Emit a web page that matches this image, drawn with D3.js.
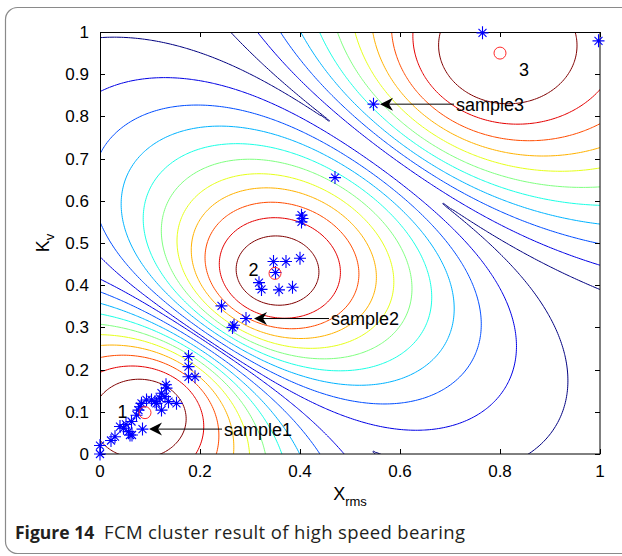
<!DOCTYPE html>
<html><head><meta charset="utf-8">
<script src="https://cdn.jsdelivr.net/npm/d3@7"></script>
<style>body{margin:0;background:#fff}svg{display:block}</style>
</head><body>
<script>
// ---------- data ----------
const xTicks = [0, 0.2, 0.4, 0.6, 0.8, 1];
const yTicks = [0, 0.1, 0.2, 0.3, 0.4, 0.5, 0.6, 0.7, 0.8, 0.9, 1];
const xTickLabels = ["0", "0.2", "0.4", "0.6", "0.8", "1"];
const yTickLabels = ["0", "0.1", "0.2", "0.3", "0.4", "0.5", "0.6", "0.7", "0.8", "0.9", "1"];
// cluster centres (red circles)
const centerX = [0.090, 0.350, 0.800];
const centerY = [0.098, 0.428, 0.950];
const centerLabels = ["1", "2", "3"];
const labelX = [0.045, 0.307, 0.848];
const labelY = [0.100, 0.436, 0.910];
const fuzzifier = 2;
// membership contour levels
const levels = [0.45, 0.50, 0.55, 0.60, 0.65, 0.70, 0.75, 0.80, 0.85, 0.90, 0.95];
// samples (blue stars)
const pointsX = [0.000, 0.000, 0.022, 0.030, 0.040, 0.047, 0.052, 0.057, 0.060, 0.064, 0.063, 0.073, 0.077, 0.080, 0.083, 0.085, 0.093, 0.103, 0.110, 0.113, 0.120, 0.123, 0.123, 0.130, 0.133, 0.132, 0.137, 0.153, 0.177, 0.177, 0.177, 0.190,
  0.347, 0.372, 0.400, 0.351, 0.318, 0.323, 0.358, 0.385, 0.403, 0.405, 0.403, 0.470, 0.243, 0.265, 0.268, 0.292,
  0.765, 0.997, 0.547];
const pointsY = [0.000, 0.020, 0.032, 0.041, 0.065, 0.061, 0.070, 0.053, 0.045, 0.045, 0.077, 0.092, 0.104, 0.112, 0.120, 0.059, 0.128, 0.128, 0.124, 0.120, 0.132, 0.144, 0.104, 0.136, 0.156, 0.164, 0.124, 0.120, 0.231, 0.207, 0.183, 0.183,
  0.456, 0.456, 0.464, 0.430, 0.406, 0.390, 0.389, 0.395, 0.566, 0.558, 0.550, 0.655, 0.351, 0.300, 0.305, 0.321,
  0.998, 0.979, 0.829];
// annotations
const sampleNames = ["sample1", "sample2", "sample3"];
const arrowHeadX = [0.098, 0.308, 0.560];
const arrowY = [0.059, 0.321, 0.829];
const arrowTailX = [0.244, 0.458, 0.708];
const sampleTextX = [0.248, 0.462, 0.712];

// ---------- layout ----------
const W = 622, H = 556;
const x = d3.scaleLinear().domain([0, 1]).range([100, 600]);
const y = d3.scaleLinear().domain([0, 1]).range([454, 32]);

const svg = d3.select("body").append("svg").attr("width", W).attr("height", H);

// outer frame
svg.append("rect").attr("x", 5.5).attr("y", 7.5).attr("width", 700).attr("height", 546)
  .attr("rx", 12).attr("fill", "none").attr("stroke", "#8a8a8a").attr("stroke-width", 1.2);

svg.append("rect").attr("x", 100).attr("y", 32).attr("width", 500).attr("height", 422).attr("fill", "#fff");
svg.append("clipPath").attr("id", "plotclip").append("rect")
  .attr("x", 100).attr("y", 32).attr("width", 500).attr("height", 422);

// ---------- membership field ----------
const N = 241, g0 = -0.06, g1 = 1.06, step = (g1 - g0) / (N - 1);
const values = new Float64Array(N * N);
for (let j = 0; j < N; j++) {
  const py = g1 - j * step;
  for (let i = 0; i < N; i++) {
    const px = g0 + i * step;
    const d2 = centerX.map((cx, k) => (px - cx) ** 2 + (py - centerY[k]) ** 2);
    let best = 0;
    for (let k = 0; k < d2.length; k++) {
      if (d2[k] === 0) { best = 1; break; }
      let s = 0;
      for (let l = 0; l < d2.length; l++) s += Math.pow(d2[k] / d2[l], 1 / (fuzzifier - 1));
      best = Math.max(best, 1 / s);
    }
    values[j * N + i] = best;
  }
}
const jet = t => {
  const c = v => Math.max(0, Math.min(1, v));
  return d3.rgb(255 * c(1.5 - Math.abs(4 * t - 3)), 255 * c(1.5 - Math.abs(4 * t - 2)), 255 * c(1.5 - Math.abs(4 * t - 1)));
};
const lmin = d3.min(levels), lmax = d3.max(levels);
const contours = d3.contours().size([N, N]).thresholds(levels)(values);
const toPx = p => [x(g0 + (p[0] - 0.5) * step), y(g1 - (p[1] - 0.5) * step)];
const gC = svg.append("g").attr("clip-path", "url(#plotclip)");
contours.forEach(c => {
  let d = "";
  c.coordinates.forEach(poly => poly.forEach(ring => {
    d += "M" + ring.map(p => toPx(p).map(v => v.toFixed(2)).join(",")).join("L") + "Z";
  }));
  gC.append("path").attr("d", d).attr("fill", "none")
    .attr("stroke", jet((c.value - lmin) / (lmax - lmin)).toString())
    .attr("stroke-width", 1).attr("stroke-linejoin", "round");
});

// ---------- axes box & ticks ----------
const gA = svg.append("g").attr("stroke", "#000").attr("stroke-width", 1);
gA.append("rect").attr("x", 100.5).attr("y", 32.5).attr("width", 499.5).attr("height", 421.5).attr("fill", "none");
xTicks.forEach(t => {
  const px = Math.round(x(t)) + 0.5;
  gA.append("line").attr("x1", px).attr("x2", px).attr("y1", 454).attr("y2", 449);
  gA.append("line").attr("x1", px).attr("x2", px).attr("y1", 32).attr("y2", 37);
});
yTicks.forEach(t => {
  const py = Math.round(y(t)) + 0.5;
  gA.append("line").attr("x1", 100).attr("x2", 105).attr("y1", py).attr("y2", py);
  gA.append("line").attr("x1", 600).attr("x2", 595).attr("y1", py).attr("y2", py);
});
const font = "'Liberation Sans', Arial, Helvetica, sans-serif";
const tl = svg.append("g").attr("font-family", font).attr("font-size", 17).attr("fill", "#000");
xTicks.forEach((t, i) => tl.append("text").attr("x", x(t)).attr("y", 477).attr("text-anchor", "middle").text(xTickLabels[i]));
yTicks.forEach((t, i) => tl.append("text").attr("x", 89).attr("y", y(t) + 6).attr("text-anchor", "end").text(yTickLabels[i]));

// axis titles
const xl = tl.append("text").attr("x", 350).attr("y", 500).attr("text-anchor", "middle").attr("font-size", 18);
xl.append("tspan").text("X");
xl.append("tspan").attr("dy", 6).attr("font-size", 13).text("rms");
const yl = tl.append("text").attr("transform", "translate(49,243) rotate(-90)").attr("text-anchor", "middle").attr("font-size", 18);
yl.append("tspan").text("K");
yl.append("tspan").attr("dy", 5).attr("font-size", 13).text("v");

// ---------- stars ----------
const star = "M-6,0H6M0,-6.5V6.5M-4,-4L4,4M-4,4L4,-4";
svg.append("g").selectAll("path").data(pointsX).join("path")
  .attr("transform", (d, i) => `translate(${x(d)},${y(pointsY[i])})`)
  .attr("d", star).attr("fill", "none").attr("stroke", "#0000ff").attr("stroke-width", 1.1);

// ---------- centres ----------
svg.append("g").selectAll("circle").data(centerX).join("circle")
  .attr("cx", d => x(d)).attr("cy", (d, i) => y(centerY[i])).attr("r", 6)
  .attr("fill", "none").attr("stroke", "#ff2a2a").attr("stroke-width", 1);
svg.append("g").attr("font-family", font).attr("font-size", 18).selectAll("text").data(centerLabels).join("text")
  .attr("x", (d, i) => x(labelX[i])).attr("y", (d, i) => y(labelY[i])).attr("dy", "0.36em")
  .attr("text-anchor", "middle").text(d => d);

// ---------- arrows ----------
const gAr = svg.append("g");
sampleNames.forEach((s, i) => {
  const hx = x(arrowHeadX[i]), ay = y(arrowY[i]), tx = x(arrowTailX[i]);
  gAr.append("line").attr("x1", tx).attr("x2", hx + 8).attr("y1", ay).attr("y2", ay)
    .attr("stroke", "#000").attr("stroke-width", 1);
  gAr.append("path").attr("d", `M${hx},${ay}L${hx + 13},${ay - 6.5}L${hx + 9},${ay}L${hx + 13},${ay + 6.5}Z`).attr("fill", "#000");
  gAr.append("text").attr("x", x(sampleTextX[i])).attr("y", ay).attr("dy", "0.36em")
    .attr("font-family", font).attr("font-size", 18).text(s);
});

// ---------- caption ----------
const cap = "'Open Sans', 'Noto Sans', sans-serif";
svg.append("text").attr("x", 15).attr("y", 539).attr("font-family", cap).attr("font-size", 17.5)
  .attr("font-weight", "bold").attr("fill", "#231f20").text("Figure 14");
svg.append("text").attr("x", 104).attr("y", 539).attr("font-family", cap).attr("font-size", 18.5)
  .attr("fill", "#231f20").attr("textLength", 361).attr("lengthAdjust", "spacing")
  .text("FCM cluster result of high speed bearing");
</script>
</body></html>
